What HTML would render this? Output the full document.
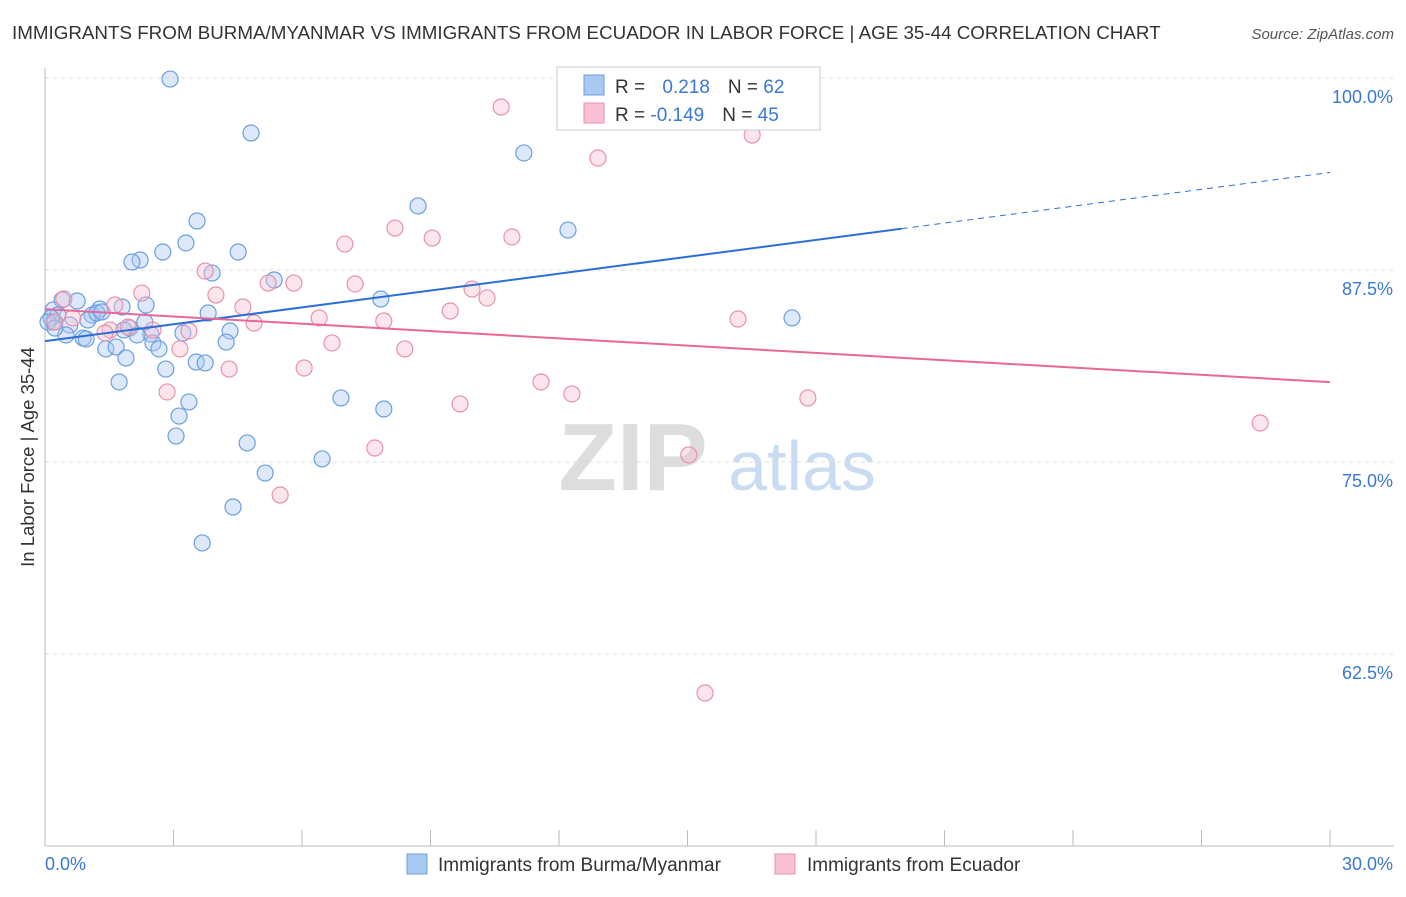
<!DOCTYPE html>
<html><head><meta charset="utf-8"><style>
body{margin:0;background:#fff;font-family:"Liberation Sans",sans-serif;}
svg text{font-family:"Liberation Sans",sans-serif;}
</style></head><body>
<svg id="chart" width="1406" height="892">
<text x="12" y="39" font-size="18.8" fill="#333">IMMIGRANTS FROM BURMA/MYANMAR VS IMMIGRANTS FROM ECUADOR IN LABOR FORCE | AGE 35-44 CORRELATION CHART</text>
<text x="1394" y="39" font-size="15" fill="#555" text-anchor="end" font-style="italic">Source: ZipAtlas.com</text>
<text x="34" y="457" font-size="18.5" fill="#333" text-anchor="middle" transform="rotate(-90 34 457)">In Labor Force | Age 35-44</text>
<g><text x="633" y="490" font-size="96" fill="#ddd" text-anchor="middle" font-family="Liberation Serif" font-weight="bold">ZIP</text><text x="802" y="490" font-size="70" fill="#c9dcf2" text-anchor="middle">atlas</text></g>
<g id="grid"></g><g id="axes"></g><g id="marks"></g>
<g>
<rect x="557" y="67" width="263" height="63" fill="#fff" stroke="#ccc"/>
<rect x="584" y="75" width="20" height="20" fill="#a9c9f2" stroke="#6a9fe0"/>
<rect x="584" y="103" width="20" height="20" fill="#f8c0d0" stroke="#e891ab"/>
<text x="615" y="93" font-size="19" fill="#333">R = <tspan fill="#3a78d4" dx="12">0.218</tspan><tspan fill="#333" dx="18">N = </tspan><tspan fill="#3a78d4">62</tspan></text>
<text x="615" y="121" font-size="19" fill="#333">R = <tspan fill="#3a78d4" dx="0">-0.149</tspan><tspan fill="#333" dx="18">N = </tspan><tspan fill="#3a78d4">45</tspan></text>
</g>
<g>
<rect x="407" y="854" width="20" height="20" fill="#a9c9f2" stroke="#6a9fe0"/>
<text x="438" y="871" font-size="19" fill="#333">Immigrants from Burma/Myanmar</text>
<rect x="775" y="854" width="20" height="20" fill="#f8c0d0" stroke="#e891ab"/>
<text x="807" y="871" font-size="19" fill="#333">Immigrants from Ecuador</text>
</g>
</svg>
<script>
const yTicks=[100,87.5,75,62.5];
const yTickLabels=["100.0%","87.5%","75.0%","62.5%"];
const xTickValues=[0,3,6,9,12,15,18,21,24,27,30];
const xEndLabels=["0.0%","30.0%"];
const burmaX=[2.92,4.81,11.18,8.71,12.21,3.55,3.29,4.51,2.75,2.22,2.03,3.90,5.35,7.84,17.44,0.40,0.75,0.19,1.28,1.80,2.36,1.10,0.30,1.00,0.19,0.58,1.21,1.98,2.47,3.22,3.81,4.32,2.15,0.49,0.89,0.96,2.52,2.66,1.42,1.66,4.23,1.89,3.53,3.74,2.82,1.73,6.91,3.36,7.91,3.13,3.06,4.72,6.47,5.14,4.39,3.67,0.14,0.07,0.23,2.33,1.33,1.84];
const burmaY=[99.93,96.42,95.12,91.67,90.10,90.69,89.26,88.67,88.67,88.15,88.02,87.30,86.85,85.61,84.38,85.55,85.48,84.90,84.96,85.09,85.22,84.57,84.57,84.24,84.11,83.92,84.70,83.72,83.33,83.40,84.70,83.53,83.27,83.27,83.07,83.01,82.75,82.36,82.36,82.49,82.81,81.77,81.51,81.45,81.05,80.21,79.17,78.91,78.45,77.99,76.69,76.24,75.20,74.28,72.07,69.73,84.38,84.11,83.72,84.11,84.77,83.59];
const ecuX=[10.65,16.51,12.91,8.17,9.04,10.90,7.00,3.74,5.21,5.81,7.24,9.97,10.32,3.99,2.26,0.44,1.63,4.62,9.46,6.40,7.91,4.88,16.18,0.65,1.52,1.94,2.52,3.36,1.40,6.70,8.40,3.15,6.05,4.30,2.85,11.58,12.30,9.69,17.81,28.37,7.70,15.03,5.49,15.41,0.23];
const ecuY=[98.11,96.29,94.79,90.23,89.58,89.65,89.19,87.43,86.65,86.65,86.59,86.26,85.68,85.87,86.00,85.61,85.22,85.09,84.83,84.38,84.18,84.05,84.31,84.38,83.59,83.79,83.59,83.53,83.40,82.75,82.36,82.36,81.12,81.05,79.56,80.21,79.43,78.78,79.17,77.54,75.91,75.46,72.85,59.96,84.11];
const burmaTrend=[82.87,93.85];
const ecuTrend=[84.95,80.2];
const trendSolidEnd=20;
const NS="http://www.w3.org/2000/svg";
const X0=45,X1=1330,Y50=846,PXPER=192/12.5;
function sx(v){return X0+(v/30)*(X1-X0);}
function sy(v){return Y50-(v-50)*PXPER;}
function el(t,a,p){const e=document.createElementNS(NS,t);for(const k in a)e.setAttribute(k,a[k]);document.getElementById(p).appendChild(e);return e;}
yTicks.forEach((v,i)=>{
 const g=el('line',{x1:X0,x2:1394,y1:sy(v),y2:sy(v),stroke:'#ddd','stroke-dasharray':'4,4'},'grid');
 
 
 const t=el('text',{x:1393,y:sy(v)+25,'font-size':18,fill:'#3a78d4','text-anchor':'end'},'axes');
 t.textContent=yTickLabels[i];
 
 
});
const ax=el('line',{x1:X0,x2:X0,y1:68,y2:Y50,stroke:'#bbb'},'axes');


const bx=el('line',{x1:X0,x2:1394,y1:Y50,y2:Y50,stroke:'#bbb'},'axes');


xTickValues.forEach(v=>{
 const t=el('line',{x1:sx(v),x2:sx(v),y1:830,y2:Y50,stroke:'#bbb'},'axes');
 
 
});
const xl0=el('text',{x:45,y:870,'font-size':18,fill:'#3a78d4'},'axes');xl0.textContent=xEndLabels[0];


const xl1=el('text',{x:1393,y:870,'font-size':18,fill:'#3a78d4','text-anchor':'end'},'axes');xl1.textContent=xEndLabels[1];


function dots(xs,ys,fill,stroke,name){xs.forEach((x,i)=>{
 const c=el('circle',{cx:sx(x),cy:sy(ys[i]),r:8,fill:fill,'fill-opacity':0.4,stroke:stroke,'stroke-width':1.2},'marks');
 
 
});}
dots(burmaX,burmaY,'#a9c9f2','#6a9fe0','point-burma');
dots(ecuX,ecuY,'#f8c0d0','#e891ab','point-ecuador');
function lin(tr,x){return tr[0]+(tr[1]-tr[0])*x/30;}
const b1=el('line',{x1:sx(0),y1:sy(lin(burmaTrend,0)),x2:sx(trendSolidEnd),y2:sy(lin(burmaTrend,trendSolidEnd)),stroke:'#2b6fd6','stroke-width':2},'marks');


const b2=el('line',{x1:sx(trendSolidEnd),y1:sy(lin(burmaTrend,trendSolidEnd)),x2:sx(30),y2:sy(lin(burmaTrend,30)),stroke:'#2b6fd6','stroke-width':1,'stroke-dasharray':'6,5'},'marks');


const e1=el('line',{x1:sx(0),y1:sy(ecuTrend[0]),x2:sx(30),y2:sy(ecuTrend[1]),stroke:'#e8689a','stroke-width':2},'marks');


</script>
</body></html>
